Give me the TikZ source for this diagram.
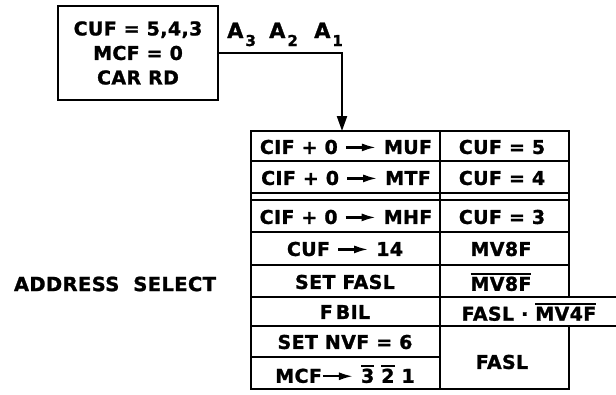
\documentclass[tikz,border=0pt]{standalone}
\usepackage{fontspec}
\usetikzlibrary{arrows.meta}
\newfontfamily\lettfam[LetterSpace=2,FakeBold=1.2]{DejaVu Sans Bold}
\newcommand{\lett}{\lettfam\fontsize{19}{24.5}\selectfont}
\newcommand{\lettbig}{\lettfam\fontsize{21}{22}\selectfont}
\newcommand{\lettaddr}{\lettfam\fontsize{19.5}{20}\selectfont}
\newcommand{\rarr}{\tikz[baseline=-6.5pt]\draw[line width=2.2pt,-{Latex[length=14pt,width=8pt]}] (0pt,0pt) -- (30pt,0pt);}
\newcommand{\ovl}[1]{{\setbox0\hbox{#1}\rlap{\rule[\dimexpr\ht0+2pt\relax]{\wd0}{1.7pt}}\box0}}
\newcommand{\subdig}[1]{\hspace{2pt}\raisebox{-8pt}{\fontsize{15}{14}\selectfont #1}}
\begin{document}
\begin{tikzpicture}[x=1pt,y=-1pt,
  tl/.style={line width=2.2pt, line join=miter},
  txt/.style={font=\lett, inner sep=0pt, anchor=center}]
\useasboundingbox (0,0) rectangle (616,394);

% initial box
\node[draw, line width=2.5pt, minimum width=160pt, minimum height=94pt,
      inner sep=0pt, align=center, font=\lett] (init) at (138,53)
      {CUF = 5,4,3\\MCF = 0\\CAR RD};

% labels A3 A2 A1
\node[inner sep=0pt, anchor=base west, font=\lettbig] (a3) at (227,38) {A\subdig{3}};
\node[inner sep=0pt, anchor=base west, font=\lettbig] (a2) at (269,38) {A\subdig{2}};
\node[inner sep=0pt, anchor=base west, font=\lettbig] (a1) at (314,38) {A\subdig{1}};

% table grid
\draw[tl] (569,297) -- (569,131) -- (251,131) -- (251,389) -- (569,389) -- (569,326);
\foreach \yy in {161,193,200,232,265}
  \draw[tl] (251,\yy) -- (569,\yy);
\foreach \yy in {297,326}
  \draw[tl] (251,\yy) -- (616,\yy);
\draw[tl] (251,357) -- (440,357);
\draw[tl] (440,131) -- (440,389);

\coordinate (tabin) at (342,131);
\draw[line width=2.2pt, -{Triangle[length=15pt,width=10pt]}] (init.east) -| (tabin);

% left column
\node[txt] (l1) at (346,147) {CIF + 0 \rarr\ MUF};
\node[txt] (l2) at (346,178) {CIF + 0 \rarr\ MTF};
\node[txt] (l3) at (346,217) {CIF + 0 \rarr\ MHF};
\node[txt] (l4) at (345,249) {CUF \rarr\ 14};
\node[txt] (l5) at (345,282) {SET FASL};
\node[txt] (l6) at (345,312) {F\hspace{3pt}BIL};
\node[txt] (l7) at (345,342) {SET NVF = 6};
\node[txt] (l8) at (345,374) {MCF\rarr\ \ovl{3} \ovl{2} 1};

% right column
\node[txt] (r1) at (502,147) {CUF = 5};
\node[txt] (r2) at (502,178) {CUF = 4};
\node[txt] (r3) at (502,217) {CUF = 3};
\node[txt] (r4) at (501,249) {MV8F};
\node[txt] (r5) at (501,282) {\ovl{MV8F}};
\node[txt] (r6) at (529,312) {FASL · \ovl{MV4F}};
\node[txt] (r7) at (502,362) {FASL};

% side label
\node[inner sep=0pt, font=\lettaddr] (addr) at (115,284) {ADDRESS\hspace{14pt}SELECT};
\end{tikzpicture}
\end{document}
